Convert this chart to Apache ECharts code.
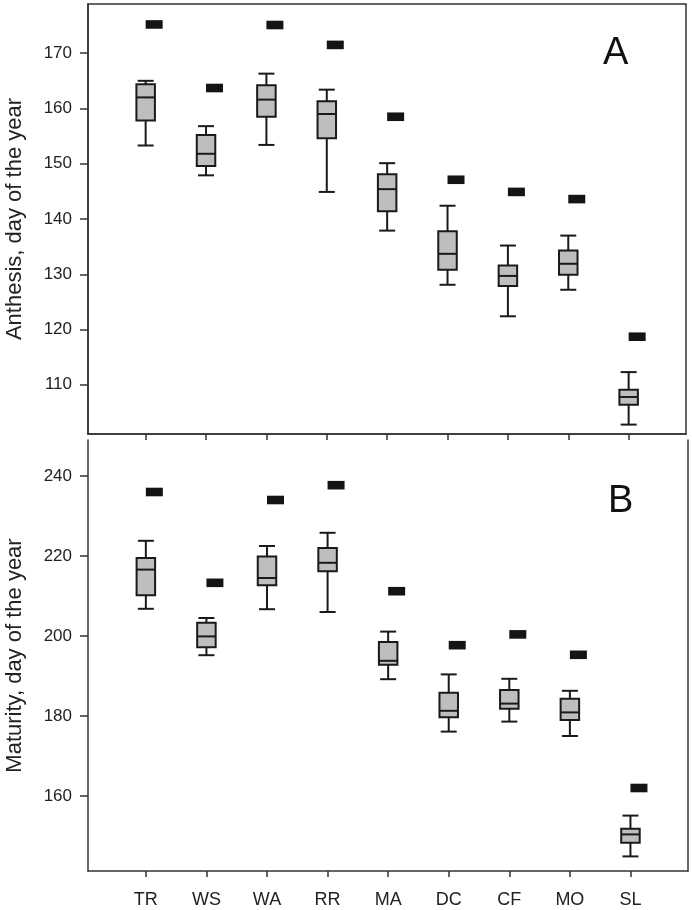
<!DOCTYPE html>
<html>
<head>
<meta charset="utf-8">
<script src="https://cdn.jsdelivr.net/npm/echarts@6/dist/echarts.min.js"></script>
<style>
html,body{margin:0;padding:0;background:#fff;}
#chart{width:692px;height:910px;}
</style>
</head>
<body>
<div id="chart"></div>
<script>
const categories = ['TR','WS','WA','RR','MA','DC','CF','MO','SL'];

// Panel A: Anthesis, day of the year
const anthesisLow    = [153.3, 147.9, 153.4, 144.9, 137.9, 128.1, 122.4, 127.2, 102.8];
const anthesisQ1     = [157.8, 149.6, 158.5, 154.6, 141.4, 130.8, 127.9, 129.9, 106.4];
const anthesisMedian = [162.0, 151.8, 161.6, 159.0, 145.4, 133.7, 129.7, 131.9, 107.8];
const anthesisQ3     = [164.4, 155.2, 164.2, 161.3, 148.1, 137.8, 131.6, 134.3, 109.1];
const anthesisHigh   = [165.0, 156.8, 166.3, 163.4, 150.1, 142.4, 135.2, 137.0, 112.3];
const anthesisMarker = [175.2, 163.7, 175.1, 171.5, 158.5, 147.1, 144.9, 143.6, 118.7];

// Panel B: Maturity, day of the year
const maturityLow    = [206.8, 195.2, 206.7, 206.0, 189.2, 176.1, 178.6, 175.0, 144.9];
const maturityQ1     = [210.2, 197.2, 212.7, 216.2, 192.8, 179.7, 181.8, 179.0, 148.3];
const maturityMedian = [216.6, 199.9, 214.5, 218.3, 193.8, 181.3, 183.1, 180.9, 150.4];
const maturityQ3     = [219.5, 203.3, 219.9, 222.0, 198.5, 185.8, 186.5, 184.3, 151.8];
const maturityHigh   = [223.8, 204.5, 222.5, 225.8, 201.1, 190.4, 189.3, 186.3, 155.1];
const maturityMarker = [236.0, 213.3, 234.0, 237.7, 211.2, 197.7, 200.4, 195.3, 162.0];

const anthesisTicks = [110, 120, 130, 140, 150, 160, 170];
const maturityTicks = [160, 180, 200, 220, 240];
const anthesisRange = [101.1, 178.9];
const maturityRange = [141.25, 249];
const xRange = [-0.955, 8.95];
const xTicks = categories.map((c, i) => i);

const FONT = "'Liberation Sans', Arial, Helvetica, sans-serif";
const INK = '#1a1a1a';
const AXIS = '#333';

function boxData(lo, q1, md, q3, hi) {
  return categories.map((c, i) => [i, lo[i], q1[i], md[i], q3[i], hi[i]]);
}
function markerData(v) {
  return categories.map((c, i) => [i, v[i]]);
}

function renderBox(params, api) {
  const x = api.value(0);
  const pLow = api.coord([x, api.value(1)]);
  const pQ1 = api.coord([x, api.value(2)]);
  const pMed = api.coord([x, api.value(3)]);
  const pQ3 = api.coord([x, api.value(4)]);
  const pHigh = api.coord([x, api.value(5)]);
  const cx = pLow[0];
  const hw = 9.25, cw = 8;
  const ls = {stroke: INK, lineWidth: 2, fill: null};
  return {type: 'group', children: [
    {type: 'line', shape: {x1: cx, y1: pHigh[1], x2: cx, y2: pQ3[1]}, style: ls},
    {type: 'line', shape: {x1: cx, y1: pQ1[1], x2: cx, y2: pLow[1]}, style: ls},
    {type: 'line', shape: {x1: cx - cw, y1: pHigh[1], x2: cx + cw, y2: pHigh[1]}, style: ls},
    {type: 'line', shape: {x1: cx - cw, y1: pLow[1], x2: cx + cw, y2: pLow[1]}, style: ls},
    {type: 'rect', shape: {x: cx - hw, y: pQ3[1], width: 2 * hw, height: pQ1[1] - pQ3[1]},
      style: {fill: '#bebebe', stroke: INK, lineWidth: 2}},
    {type: 'line', shape: {x1: cx - hw, y1: pMed[1], x2: cx + hw, y2: pMed[1]}, style: ls}
  ]};
}

function renderMarker(params, api) {
  const p = api.coord([api.value(0), api.value(1)]);
  const w = 17, h = 8.6;
  return {type: 'rect', shape: {x: p[0], y: p[1] - h / 2, width: w, height: h},
    style: {fill: '#141414'}};
}

function xAxisDef(gridIndex, showLabels) {
  return {
    type: 'value', gridIndex: gridIndex, min: xRange[0], max: xRange[1],
    splitLine: {show: false},
    axisLine: {show: true, onZero: false, lineStyle: {color: AXIS, width: 1.5}},
    axisTick: {show: true, customValues: xTicks, length: 6, lineStyle: {color: AXIS, width: 1.5}},
    axisLabel: showLabels ? {
      show: true, customValues: xTicks, margin: 20,
      formatter: v => categories[Math.round(v)],
      fontFamily: FONT, fontSize: 18, color: '#222'
    } : {show: false}
  };
}

function yAxisDef(gridIndex, range, ticks, name) {
  return {
    type: 'value', gridIndex: gridIndex, min: range[0], max: range[1],
    name: name, nameLocation: 'middle', nameGap: 62, nameRotate: 90,
    nameTextStyle: {fontFamily: FONT, fontSize: 22, color: '#222'},
    splitLine: {show: false},
    axisLine: {show: true, onZero: false, lineStyle: {color: AXIS, width: 1.5}},
    axisTick: {show: true, customValues: ticks, length: 8, lineStyle: {color: AXIS, width: 1.5}},
    axisLabel: {show: true, customValues: ticks, margin: 16,
      fontFamily: FONT, fontSize: 17, color: '#222'}
  };
}

const chart = echarts.init(document.getElementById('chart'), null, {renderer: 'canvas'});
chart.setOption({
  animation: false,
  backgroundColor: '#fff',
  grid: [
    {left: 88, top: 4, width: 598, height: 430, show: true, borderColor: AXIS, borderWidth: 1.5,
      backgroundColor: 'transparent', containLabel: false, outerBoundsMode: 'none'},
    {left: 88, top: 440, width: 600, height: 431, containLabel: false, outerBoundsMode: 'none'}
  ],
  xAxis: [xAxisDef(0, false), xAxisDef(1, true)],
  yAxis: [
    yAxisDef(0, anthesisRange, anthesisTicks, 'Anthesis, day of the year'),
    yAxisDef(1, maturityRange, maturityTicks, 'Maturity, day of the year'),
    {type: 'value', gridIndex: 1, position: 'right', min: maturityRange[0], max: maturityRange[1],
      splitLine: {show: false}, axisTick: {show: false}, axisLabel: {show: false},
      axisLine: {show: true, onZero: false, lineStyle: {color: AXIS, width: 1.5}}}
  ],
  graphic: [
    {type: 'text', left: 603, top: 35, style: {text: 'A', font: '38px ' + FONT, fill: '#111'}},
    {type: 'text', left: 608, top: 483, style: {text: 'B', font: '38px ' + FONT, fill: '#111'}}
  ],
  series: [
    {type: 'custom', name: 'Anthesis', xAxisIndex: 0, yAxisIndex: 0,
      renderItem: renderBox, encode: {x: 0, y: [1, 2, 3, 4, 5]},
      data: boxData(anthesisLow, anthesisQ1, anthesisMedian, anthesisQ3, anthesisHigh)},
    {type: 'custom', name: 'Anthesis marker', xAxisIndex: 0, yAxisIndex: 0,
      renderItem: renderMarker, encode: {x: 0, y: 1}, data: markerData(anthesisMarker)},
    {type: 'custom', name: 'Maturity', xAxisIndex: 1, yAxisIndex: 1,
      renderItem: renderBox, encode: {x: 0, y: [1, 2, 3, 4, 5]},
      data: boxData(maturityLow, maturityQ1, maturityMedian, maturityQ3, maturityHigh)},
    {type: 'custom', name: 'Maturity marker', xAxisIndex: 1, yAxisIndex: 1,
      renderItem: renderMarker, encode: {x: 0, y: 1}, data: markerData(maturityMarker)}
  ]
});
</script>
</body>
</html>
